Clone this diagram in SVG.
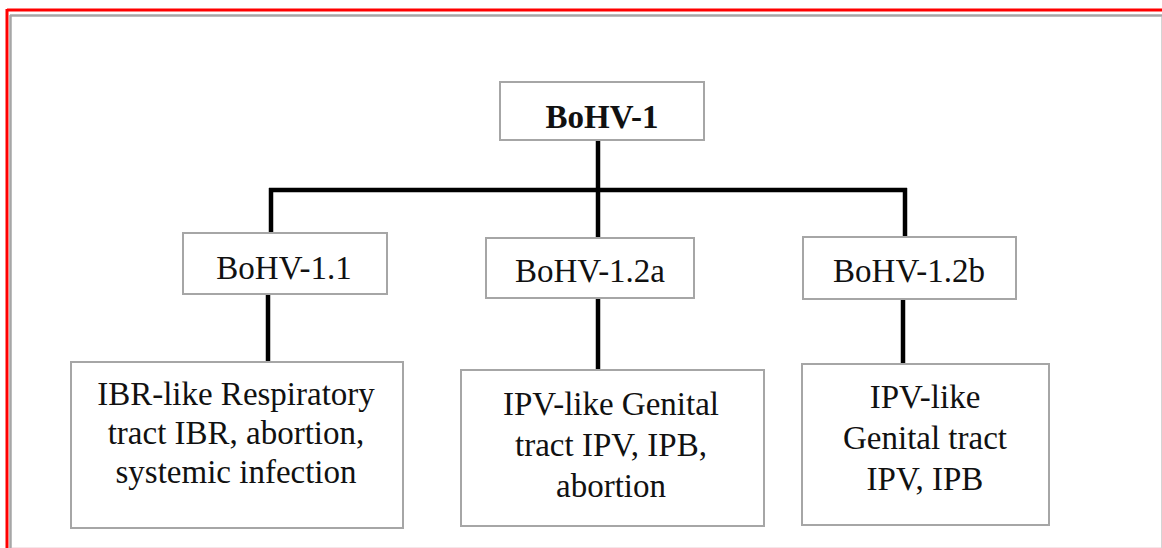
<svg xmlns="http://www.w3.org/2000/svg" width="1162" height="548" viewBox="0 0 1162 548">
<style>
.box{fill:#fff;stroke:#a6a6a6;stroke-width:2}
.t{font-size:33px;fill:#111;text-anchor:middle}
.b{font-weight:bold}
.c{stroke:#000;stroke-width:4.5;fill:none}
</style>
<rect x="0" y="0" width="1162" height="548" fill="#fff"/>
<g id="frame">
<line x1="7" y1="10" x2="1162" y2="10" stroke="#ff0000" stroke-width="3"/>
<line x1="7" y1="9" x2="7" y2="548" stroke="#ff0000" stroke-width="3"/>
<line x1="10" y1="15.5" x2="1162" y2="15.5" stroke="#a6a6a6" stroke-width="2.5"/>
<line x1="10.5" y1="15" x2="10.5" y2="548" stroke="#a6a6a6" stroke-width="2.5"/>
<line x1="1161.5" y1="17" x2="1161.5" y2="548" stroke="#d4d4d4" stroke-width="1"/>
<line x1="12" y1="547.5" x2="1161" y2="547.5" stroke="#f6e6ea" stroke-width="1"/>
</g>
<g id="connectors">
<line class="c" x1="598" y1="140" x2="598" y2="238"/>
<line class="c" x1="269" y1="190" x2="907" y2="190"/>
<line class="c" x1="271" y1="188" x2="271" y2="233"/>
<line class="c" x1="905" y1="188" x2="905" y2="238"/>
<line class="c" x1="268" y1="294" x2="268" y2="362"/>
<line class="c" x1="598" y1="298" x2="598" y2="370"/>
<line class="c" x1="903" y1="299" x2="903" y2="364"/>
</g>
<g font-family="'Liberation Serif', Tinos, 'Times New Roman', 'DejaVu Serif', serif">
<g id="n-root">
<rect class="box" x="500" y="82" width="204" height="58"/>
<text class="t b" x="602" y="128">BoHV-1</text>
</g>
<g id="n-11">
<rect class="box" x="183" y="233" width="204" height="61"/>
<text class="t" x="284" y="279">BoHV-1.1</text>
</g>
<g id="n-12a">
<rect class="box" x="486" y="238" width="208" height="60"/>
<text class="t" x="590" y="282">BoHV-1.2a</text>
</g>
<g id="n-12b">
<rect class="box" x="803" y="237" width="213" height="62"/>
<text class="t" x="909" y="282">BoHV-1.2b</text>
</g>
<g id="n-11d">
<rect class="box" x="71" y="362" width="332" height="166"/>
<text class="t" x="236" y="405">IBR-like Respiratory</text>
<text class="t" x="236" y="444">tract IBR, abortion,</text>
<text class="t" x="236" y="483">systemic infection</text>
</g>
<g id="n-12ad">
<rect class="box" x="461" y="370" width="303" height="156"/>
<text class="t" x="611" y="415">IPV-like Genital</text>
<text class="t" x="611" y="456">tract IPV, IPB,</text>
<text class="t" x="611" y="497">abortion</text>
</g>
<g id="n-12bd">
<rect class="box" x="802" y="364" width="247" height="161"/>
<text class="t" x="925" y="408">IPV-like</text>
<text class="t" x="925" y="449">Genital tract</text>
<text class="t" x="925" y="490">IPV, IPB</text>
</g>
</g>
</svg>
